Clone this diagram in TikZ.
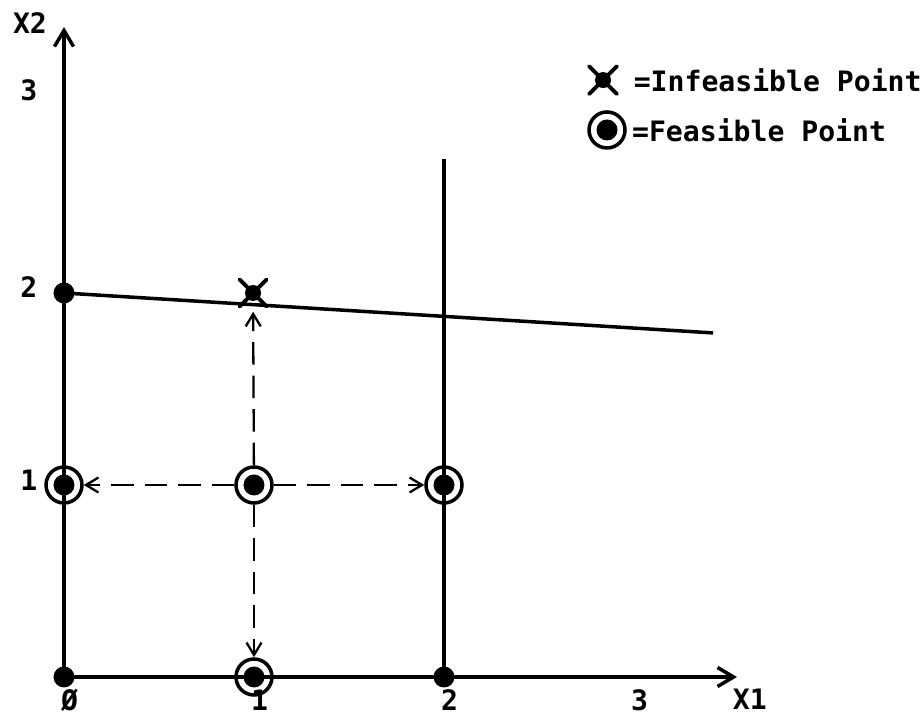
\documentclass[tikz,border=0pt]{standalone}
\usepackage{fontspec}
\setmainfont{DejaVu Sans Mono}
\usetikzlibrary{arrows.meta,positioning,shapes.misc}
\tikzset{
    dot/.style={circle,fill,inner sep=0pt,minimum size=0.42cm},
    feas/.style={circle,draw,line width=2pt,inner sep=0pt,minimum size=0.72cm,label={[dot]center:{}}},
    infeas/.style={cross out,draw,line width=2.2pt,line cap=round,inner sep=0pt,minimum size=0.46cm,
        label={[circle,fill,inner sep=0pt,minimum size=0.32cm]center:{}}},
    axisarr/.style={line width=2pt,-{Straight Barb[length=0.32cm,width=0.38cm,line width=2pt]}},
    dasharr/.style={line width=1.3pt,dash pattern=on 0.45cm off 0.22cm,
        -{Straight Barb[length=0.25cm,width=0.3cm,line width=1.3pt]}},
    lbl/.style={font=\fontsize{16}{18}\selectfont\bfseries,inner sep=0pt}
}
\begin{document}
\begin{tikzpicture}[x=3.8cm,y=3.84cm]
    % Khung hình
    \useasboundingbox (-0.3368,-0.2083) rectangle (4.5263,3.526);

    % Các điểm
    \node[dot] (p00) at (0,0) {};
    \node[dot] (p20) at (2,0) {};
    \node[dot] (p02) at (0,2) {};
    \node[feas] (p10) at (1,0) {};
    \node[feas] (p01) at (0,1) {};
    \node[feas] (p11) at (1,1) {};
    \node[feas] (p21) at (2,1) {};
    \node[infeas] (p12) at (0.995,2) {};

    % Đầu mút các đường
    \coordinate (xend) at (3.542,0);
    \coordinate (yend) at (0,3.385);
    \coordinate (vtop) at (2,2.698);
    \coordinate (cend) at (3.416,1.792);

    % Vẽ trục tọa độ
    \draw[axisarr] (p00.center) -- (xend);
    \draw[axisarr] (p00.center) -- (yend);

    % Vẽ các ràng buộc
    \draw[line width=2pt] (p20.center) -- (vtop);
    \draw[line width=2pt] (p02.center) -- (cend);

    % Các bước dò (nét đứt)
    \draw[dasharr] (p11) -- (p01);
    \draw[dasharr] (p11) -- (p21);
    \draw[dasharr] (p11) -- (p10);
    \draw[dasharr,shorten >=3pt] (p11) -- (p12);

    % Tên trục
    \node[lbl] (ax2) at (-0.179,3.406) {X2};
    \node[lbl] (ax1) at (3.61,-0.115) {X1};

    % Đánh số trên trục y
    \foreach \y/\d in {1/0.026,2/0.031,3/0.057}
    \node[lbl] (ly\y) at (-0.185,\y+\d) {\y};

    % Đánh số trên trục x
    \foreach \x/\t in {0/Ø,1/1,2/2,3/3}
    \node[lbl] (lx\x) at (\x+0.03,-0.12) {\t};

    % Chú thích
    \node[infeas,minimum size=0.48cm] (legInf) at (2.837,3.109) {};
    \node[lbl,right=0.33cm of legInf] (legInfTxt) {=Infeasible Point};
    \node[feas] (legFeas) at (2.858,2.849) {};
    \node[lbl,right=0.1cm of legFeas] (legFeasTxt) {=Feasible Point};
\end{tikzpicture}
\end{document}
